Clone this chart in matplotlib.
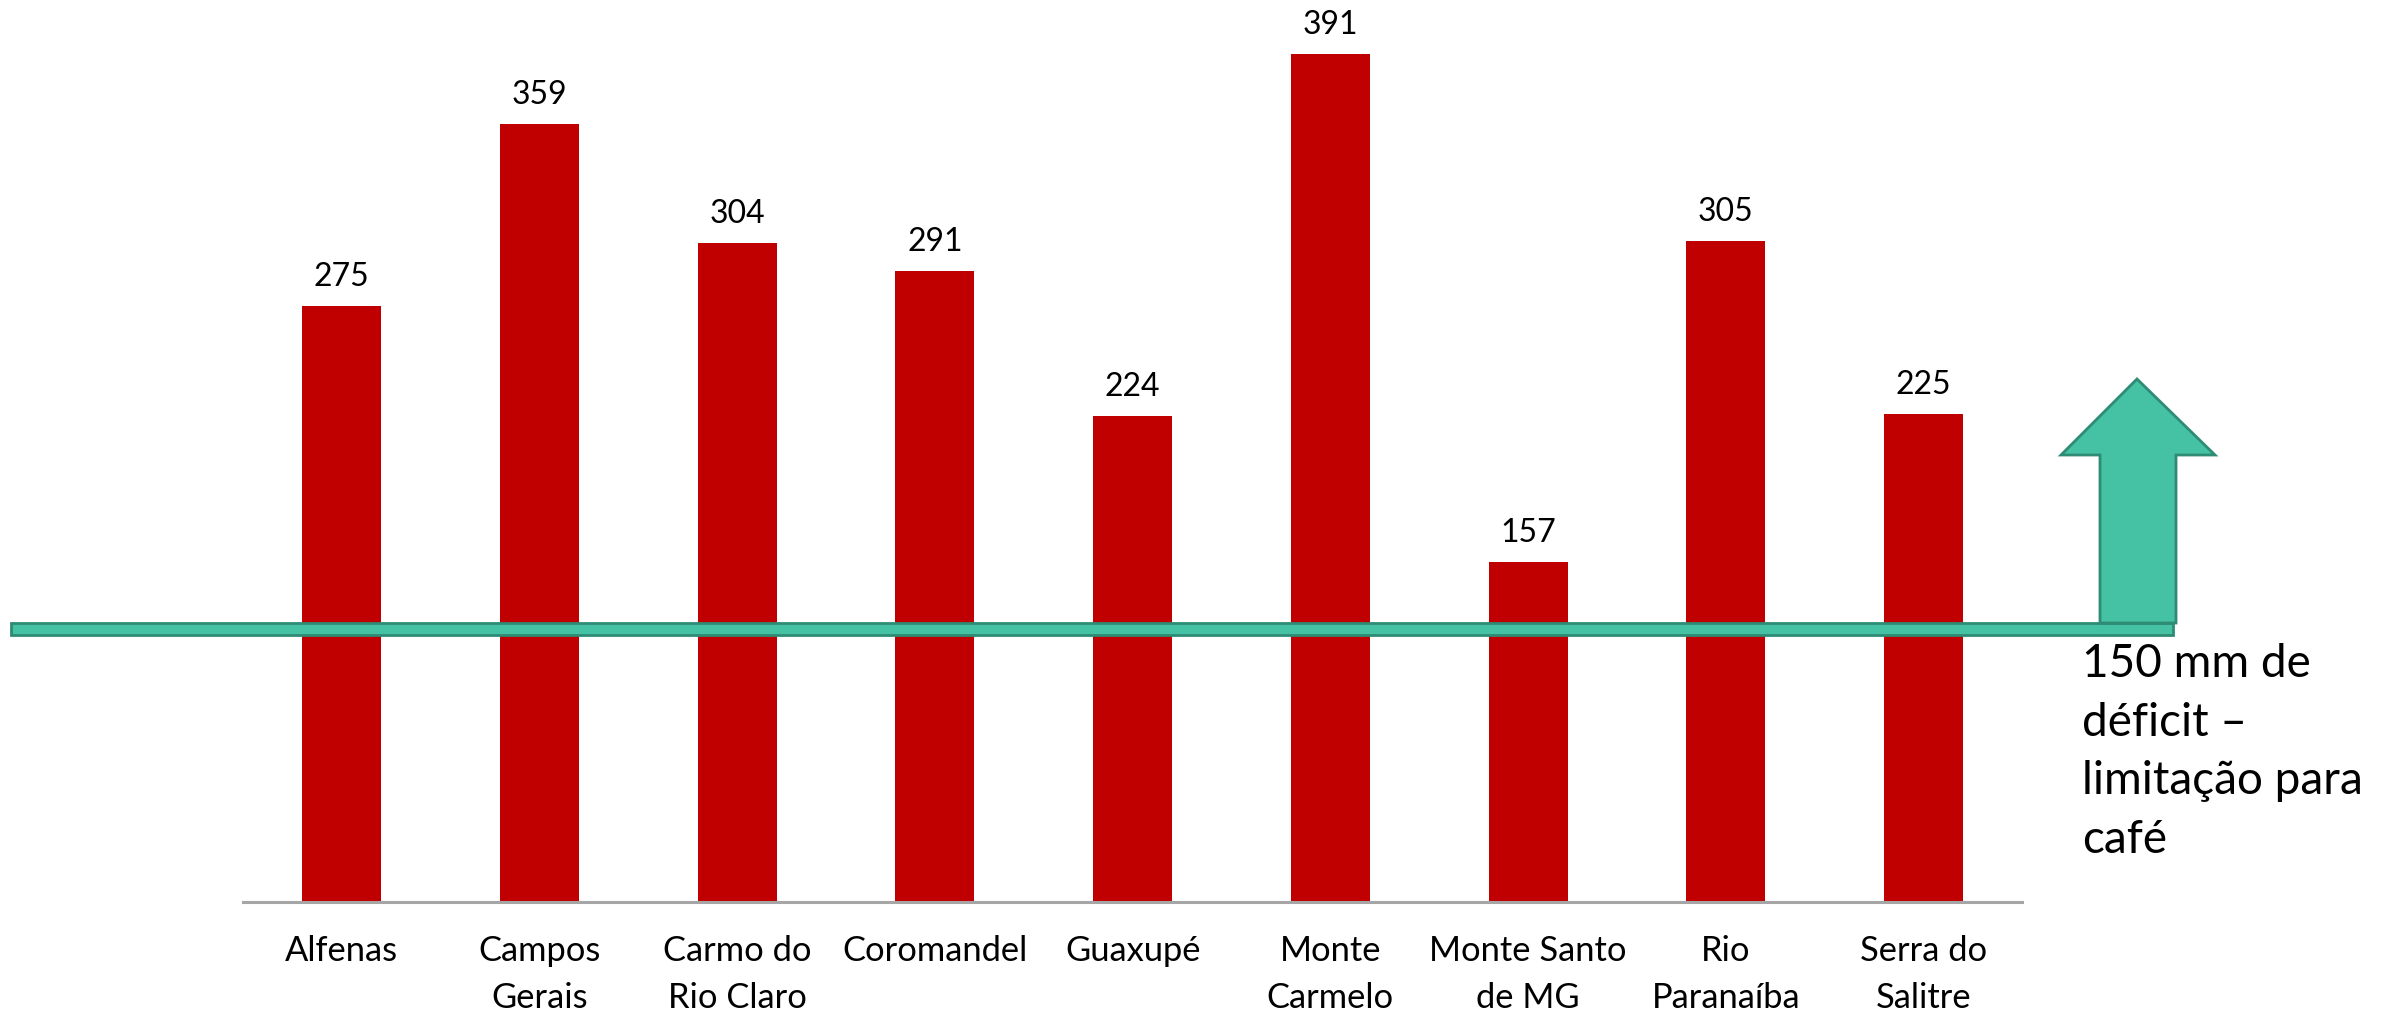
import matplotlib.pyplot as plt
from matplotlib.patches import Rectangle, Polygon

# Déficit hídrico acumulado (mm) por município
cidades = ['Alfenas', 'Campos\nGerais', 'Carmo do\nRio Claro', 'Coromandel', 'Guaxupé',
           'Monte\nCarmelo', 'Monte Santo\nde MG', 'Rio\nParanaíba', 'Serra do\nSalitre']
deficit = [275, 359, 304, 291, 224, 391, 157, 305, 225]
limite = 150

plt.rcParams['font.family'] = ['Lato', 'DejaVu Sans']

W, H = 2382, 1017
fig = plt.figure(figsize=(W / 100, H / 100), dpi=100)
ax = fig.add_axes([0.102, 0.113, 0.747, 0.887])

pos = range(len(cidades))
ax.bar(pos, deficit, width=0.4, color='#C00000')
for xi, v in zip(pos, deficit):
    ax.annotate(str(v), (xi, v), xytext=(0, 10), textcoords='offset points',
                ha='center', va='bottom', fontsize=23)

ax.set_xlim(-0.5, len(cidades) - 0.5)
ax.set_ylim(0, 416)
ax.set_xticks(list(pos))
ax.set_xticklabels(cidades, fontsize=24.8, linespacing=1.58)
ax.tick_params(axis='x', length=0, pad=24)
ax.set_yticks([])
for s in ['top', 'right', 'left']:
    ax.spines[s].set_visible(False)
ax.spines['bottom'].set_color('#A6A6A6')
ax.spines['bottom'].set_linewidth(2.2)


def px(x, y):
    # pixel position (origin top-left) -> figure fraction
    return (x / W, 1 - y / H)


verde = '#45C1A4'
borda = '#2E8B74'

# faixa horizontal do limite
x0, y0 = px(11, 635)
x1, y1 = px(2173, 623)
fig.patches.append(Rectangle((x0, y0), x1 - x0, y1 - y0, transform=fig.transFigure,
                             facecolor=verde, edgecolor=borda, linewidth=2, zorder=5))

# seta para cima
seta = [px(2100, 623), px(2100, 455), px(2061, 455), px(2137, 379),
        px(2215, 455), px(2176, 455), px(2176, 623)]
fig.patches.append(Polygon(seta, closed=True, transform=fig.transFigure,
                           facecolor=verde, edgecolor=borda, linewidth=2, zorder=5))

tx, ty = px(2082, 643)
fig.text(tx, ty, f'{limite} mm de\ndéficit –\nlimitação para\ncafé',
         fontsize=33, ha='left', va='top', linespacing=1.49)

fig.savefig('out.png', dpi=100)
